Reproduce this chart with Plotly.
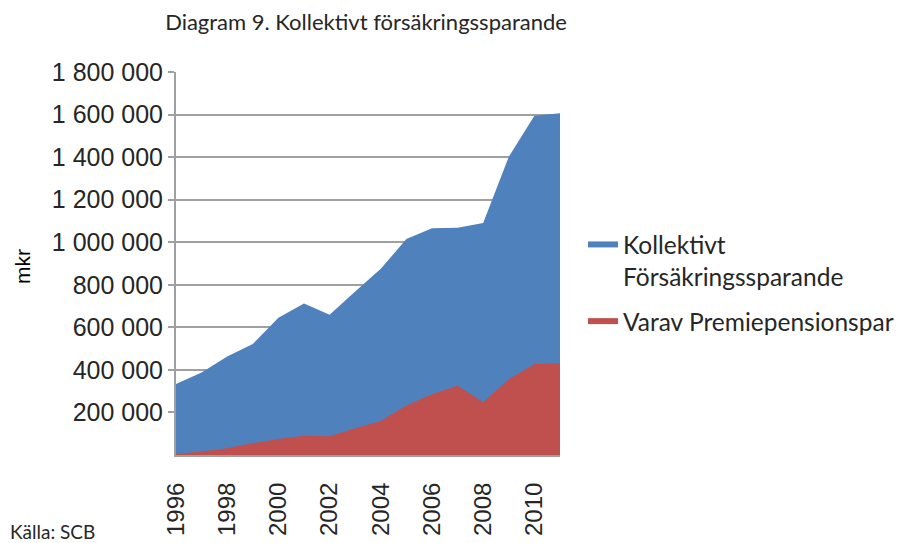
import plotly.graph_objects as go

years = list(range(1996, 2012))
kollektivt = [334000, 388000, 463000, 522000, 645000, 712000, 659000, 768000,
              875000, 1015000, 1066000, 1068000, 1090000, 1402000, 1594000, 1606000]
premiepension = [5000, 17000, 32000, 56000, 75000, 91000, 88000, 126000,
                 160000, 233000, 285000, 325000, 248000, 356000, 428000, 430000]

y_tickvals = [200000, 400000, 600000, 800000, 1000000, 1200000, 1400000, 1600000, 1800000]
y_ticktext = ["200 000", "400 000", "600 000", "800 000", "1 000 000",
              "1 200 000", "1 400 000", "1 600 000", "1 800 000"]
x_tickvals = [1996, 1998, 2000, 2002, 2004, 2006, 2008, 2010]

name_total = "Kollektivt<br>Försäkringssparande"
name_ppm = "Varav Premiepensionspar"
title_text = "Diagram 9. Kollektivt försäkringssparande"
source_text = "Källa: SCB"
yaxis_title = "mkr"

BLUE = "#4F81BD"
RED = "#C0504D"

fig = go.Figure()
fig.add_trace(go.Scatter(x=years, y=kollektivt, name=name_total, mode="none",
                         fill="tozeroy", fillcolor=BLUE, legendgroup="a"))
fig.add_trace(go.Scatter(x=years, y=premiepension, name=name_ppm, mode="none",
                         fill="tozeroy", fillcolor=RED, legendgroup="b"))

L, R, T, B = 176, 342, 72, 88
W, H = 902, 543
pw = W - L - R
ph = H - T - B

def px_x(x):
    return (x - L) / pw

def px_y(y):
    return (H - B - y) / ph

fig.update_layout(
    template="none",
    width=W, height=H,
    margin=dict(l=L, r=R, t=T, b=B, autoexpand=False),
    paper_bgcolor="white", plot_bgcolor="white",
    title=dict(text=title_text, xref="container", x=366 / W, xanchor="center",
               yref="container", y=1 - 22 / H, yanchor="middle",
               font=dict(family="Lato", size=22, color="#262626")),
    showlegend=True,
    legend=dict(x=px_x(583), y=px_y(222), xanchor="left", yanchor="top",
                font=dict(family="Lato", size=24.5, color="#262626"),
                valign="top", tracegroupgap=10, bgcolor="rgba(0,0,0,0)"),
    xaxis=dict(range=[1996, 2011], tickvals=x_tickvals, tickangle=-90,
               automargin=False,
               showgrid=False, zeroline=False, showline=True,
               linecolor="#a0a0a0", linewidth=2,
               ticks="outside", ticklen=16, tickcolor="rgba(0,0,0,0)",
               tickfont=dict(family="Liberation Sans", size=24, color="#262626")),
    yaxis=dict(range=[0, 1800000], tickvals=y_tickvals, ticktext=y_ticktext,
               automargin=False,
               showgrid=True, gridcolor="#a0a0a0", gridwidth=2,
               zeroline=False, showline=True, linecolor="#a0a0a0", linewidth=2,
               ticks="outside", ticklen=6, tickcolor="#a0a0a0", tickwidth=2,
               tickfont=dict(family="Liberation Sans", size=25, color="#262626")),
    annotations=[
        dict(text=yaxis_title, xref="paper", yref="paper", x=px_x(22), y=px_y(267),
             textangle=-90, showarrow=False, xanchor="center", yanchor="middle",
             font=dict(family="Liberation Sans", size=21, color="#000000")),
        dict(text=source_text, xref="paper", yref="paper", x=px_x(8), y=px_y(531),
             showarrow=False, xanchor="left", yanchor="middle",
             font=dict(family="Lato", size=19, color="#262626")),
    ],
)

fig.write_html("out.html", config={"displayModeBar": False},
               post_script="document.body.style.margin='0';document.body.style.overflow='hidden';")
